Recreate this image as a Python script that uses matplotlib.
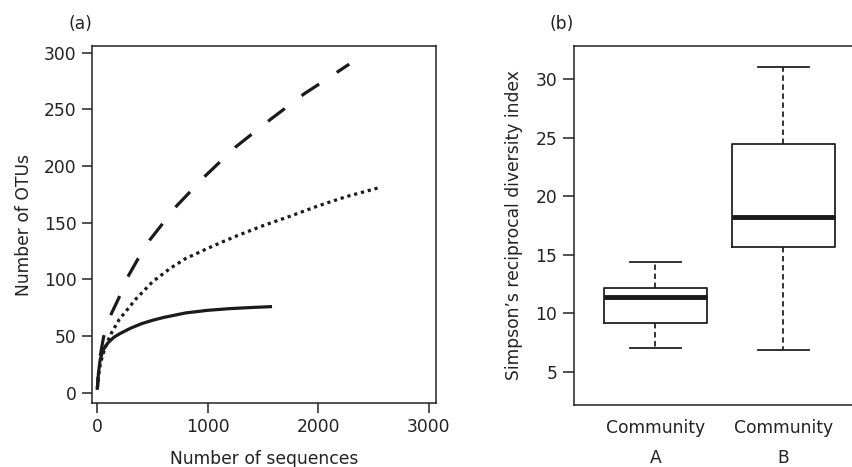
import matplotlib
matplotlib.use("Agg")
import matplotlib.pyplot as plt

plt.rcParams['font.family'] = ['DejaVu Sans']

# Panel (a): rarefaction curves
dash_x = [0, 10, 25, 56, 118, 196, 274, 367, 476, 709, 973, 1253, 1564, 1875, 2080, 2280]
dash_y = [4, 18, 32, 49, 68, 84, 102, 118, 135, 164, 191, 217, 241, 264, 277, 290]
dot_x = [0, 10, 25, 50, 100, 134, 200, 351, 500, 662, 800, 1000, 1129, 1250, 1500, 1750, 2000, 2250, 2550]
dot_y = [4, 14, 24, 34, 47, 54, 65, 83, 98, 110, 118.5, 127.5, 133, 138, 147.5, 156, 165, 173, 181]
solid_x = [0, 3, 10, 25, 50, 73, 100, 150, 200, 300, 400, 500, 600, 800, 1000, 1200, 1400, 1567]
solid_y = [4, 7, 17, 29, 37, 41, 44.5, 49, 52, 57, 61, 64, 66.5, 70.5, 72.8, 74.3, 75.3, 76]

x_ticks = [0, 1000, 2000, 3000]
y_ticks_a = [0, 50, 100, 150, 200, 250, 300]

# Panel (b): boxplot stats
groups = ['Community\nA', 'Community\nB']
whislo = [7.09, 6.89]
q1 = [9.17, 15.65]
med = [11.44, 18.26]
q3 = [12.16, 24.43]
whishi = [14.42, 31.05]
y_ticks_b = [5, 10, 15, 20, 25, 30]

fig = plt.figure(figsize=(8.53, 4.67), dpi=100)
fs = 12.3
tc = '#222222'

ax1 = fig.add_axes([0.1079, 0.1370, 0.4033, 0.7645])
ax1.plot(dash_x, dash_y, color='#1a1a1a', lw=2.3, linestyle=(3, (6.6, 6.6)))
ax1.plot(dot_x, dot_y, color='#1a1a1a', lw=2.3, linestyle=(0, (1, 1.2)))
ax1.plot(solid_x, solid_y, color='#1a1a1a', lw=2.3)
ax1.set_xlim(-48, 3066)
ax1.set_ylim(-9, 306)
ax1.set_xticks(x_ticks)
ax1.set_yticks(y_ticks_a)
ax1.tick_params(direction='out', length=7, width=1.1, labelsize=fs, pad=4, colors=tc)
for s in ax1.spines.values():
    s.set_linewidth(1.1)
    s.set_color(tc)
ax1.set_xlabel('Number of sequences', fontsize=fs, labelpad=10, color=tc)
ax1.set_ylabel('Number of OTUs', fontsize=fs, labelpad=8, color=tc)
fig.text(80 / 853, 1 - 24 / 467, '(a)', fontsize=fs, ha='center', va='center', color=tc)

ax2 = fig.add_axes([0.6729, 0.1328, 0.328, 0.7687])
stats = []
for i in range(len(groups)):
    stats.append(dict(whislo=whislo[i], q1=q1[i], med=med[i], q3=q3[i], whishi=whishi[i], fliers=[], label=groups[i]))
ax2.bxp(stats, positions=[1, 2], widths=0.8, showfliers=False,
        boxprops=dict(color=tc, lw=1.3),
        medianprops=dict(color='#1a1a1a', lw=3.5, solid_capstyle='butt'),
        whiskerprops=dict(color=tc, lw=1.3, linestyle=(0, (3, 2))),
        capprops=dict(color=tc, lw=1.3), capwidths=0.4)
ax2.set_xlim(0.364, 2.55)
ax2.set_ylim(2.2, 32.8)
ax2.set_yticks(y_ticks_b)
ax2.tick_params(axis='y', direction='out', length=8, width=1.1, labelsize=fs, pad=4, colors=tc)
ax2.tick_params(axis='x', length=0, labelsize=fs, pad=10, colors=tc)
for lab in ax2.get_xticklabels():
    lab.set_linespacing(1.9)
ax2.spines['right'].set_visible(False)
for s in ax2.spines.values():
    s.set_linewidth(1.1)
    s.set_color(tc)
ax2.set_ylabel('Simpson\u2019s reciprocal diversity index', fontsize=fs, labelpad=9, color=tc)
fig.text(562 / 853, 1 - 24 / 467, '(b)', fontsize=fs, ha='center', va='center', color=tc)

fig.savefig('out.png', dpi=100)
